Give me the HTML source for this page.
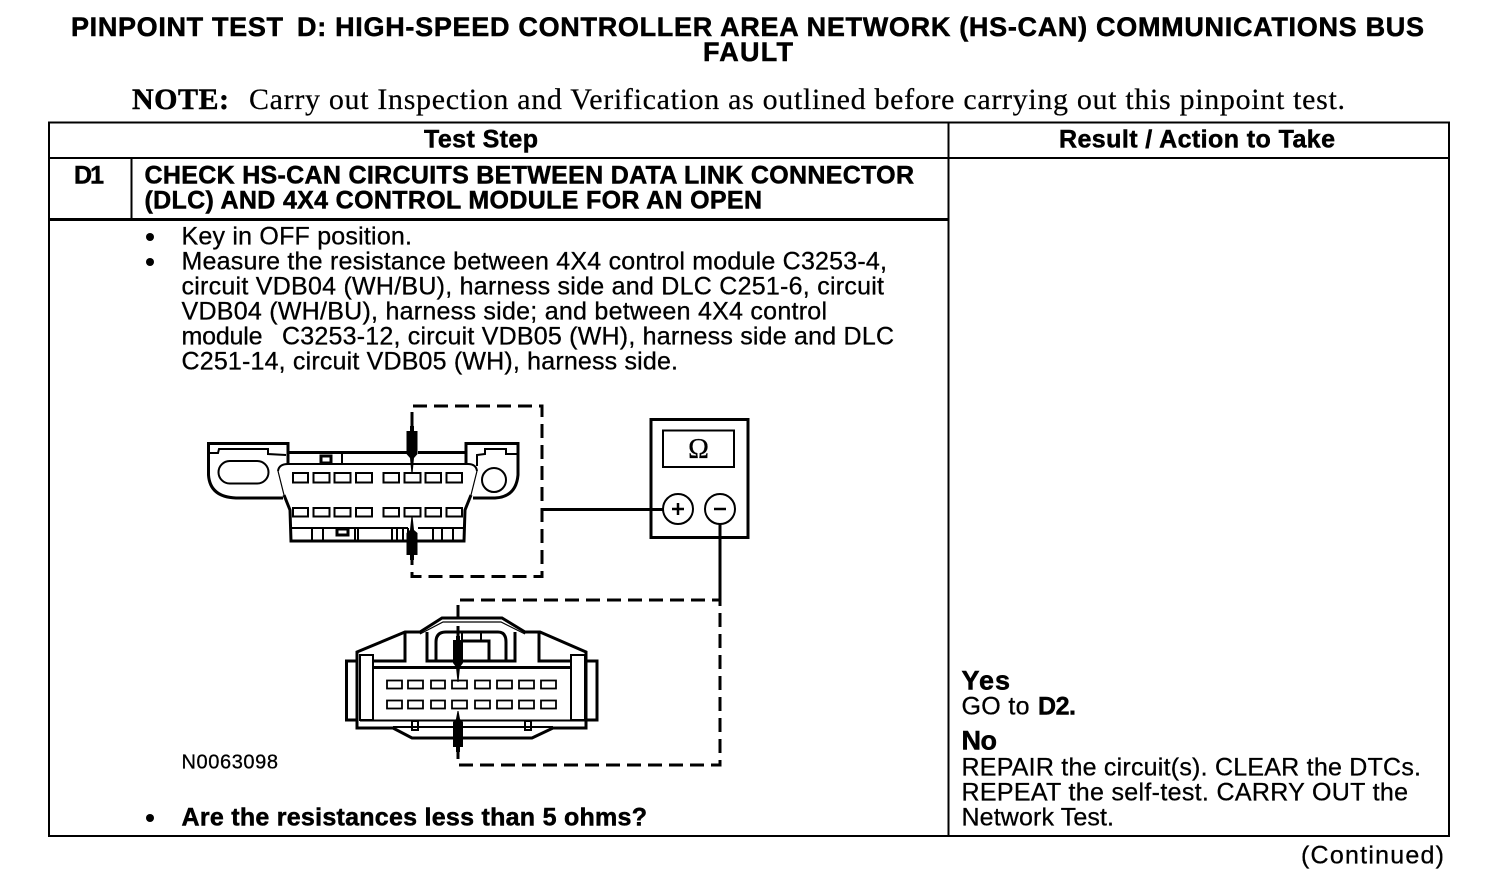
<!DOCTYPE html>
<html><head><meta charset="utf-8"><title>Pinpoint Test D</title>
<style>
html,body{margin:0;padding:0;background:#fff;width:1504px;height:892px;overflow:hidden}
svg{display:block}
text{font-family:"Liberation Sans",sans-serif;fill:#000;font-size:25px;stroke:#000;stroke-width:.3px}
.b{font-weight:bold;stroke-width:.5px}
.s{font-family:"Liberation Serif",serif;font-size:30px}
.l{fill:none;stroke:#000;stroke-width:3;stroke-linejoin:miter}
.m{fill:none;stroke:#000;stroke-width:2}
.t{fill:none;stroke:#000;stroke-width:1.2}
.d{fill:none;stroke:#000;stroke-width:3;stroke-dasharray:14 7}
.a{fill:#000;stroke:none}
</style></head><body>
<svg width="1504" height="892" viewBox="0 0 1504 892" xmlns="http://www.w3.org/2000/svg">
<text class="b" x="71" y="36" style="font-size:27px" textLength="212">PINPOINT TEST</text>
<text class="b" x="297" y="36" style="font-size:27px" textLength="1127">D: HIGH-SPEED CONTROLLER AREA NETWORK (HS-CAN) COMMUNICATIONS BUS</text>
<text class="b" x="703" y="61" style="font-size:27px" textLength="90">FAULT</text>
<text class="s b" x="132" y="109" textLength="97">NOTE:</text>
<text class="s" x="249" y="109" textLength="1096" style="stroke-width:.2px">Carry out Inspection and Verification as outlined before carrying out this pinpoint test.</text>

<!-- table -->
<rect x="49" y="122.500" width="1400" height="713.500" fill="none" stroke="#000" stroke-width="2"/>
<path d="M49 158H1449M948.500 122V836M131.500 158V219" fill="none" stroke="#000" stroke-width="2"/>
<path d="M49 219.500H948" fill="none" stroke="#000" stroke-width="3"/>

<text class="b" x="424" y="147.500" textLength="114">Test Step</text>
<text class="b" x="1059" y="147.500" textLength="276">Result / Action to Take</text>
<text class="b" x="74" y="183.500" textLength="30">D1</text>
<text class="b" x="144.500" y="183.500" textLength="769.500">CHECK HS-CAN CIRCUITS BETWEEN DATA LINK CONNECTOR</text>
<text class="b" x="144.500" y="208.500" textLength="617.500">(DLC) AND 4X4 CONTROL MODULE FOR AN OPEN</text>

<circle cx="150" cy="237" r="4" fill="#000"/>
<circle cx="150" cy="262" r="4" fill="#000"/>
<circle cx="150" cy="818" r="4" fill="#000"/>
<text x="181.500" y="244.500" textLength="230.500">Key in OFF position.</text>
<text x="181.500" y="269.500" textLength="705.500">Measure the resistance between 4X4 control module C3253-4,</text>
<text x="181.500" y="294.500" textLength="702.500">circuit VDB04 (WH/BU), harness side and DLC C251-6, circuit</text>
<text x="181.500" y="319.500" textLength="645.500">VDB04 (WH/BU), harness side; and between 4X4 control</text>
<text x="181.500" y="344.500" textLength="81">module</text>
<text x="282" y="344.500" textLength="612">C3253-12, circuit VDB05 (WH), harness side and DLC</text>
<text x="181.500" y="369.500" textLength="496.500">C251-14, circuit VDB05 (WH), harness side.</text>
<text x="181.500" y="768.500" style="font-size:20px" textLength="96.500">N0063098</text>
<text class="b" x="181.500" y="825.500" textLength="465.500">Are the resistances less than 5 ohms?</text>

<text class="b" x="961.500" y="689.500" style="font-size:27px" textLength="48.500">Yes</text>
<text x="961.500" y="714.500" textLength="68">GO to</text><text class="b" x="1038" y="714.500" textLength="38">D2.</text>
<text class="b" x="961.500" y="749.500" style="font-size:27px" textLength="35.500">No</text>
<text x="961.500" y="775.500" textLength="459.500">REPAIR the circuit(s). CLEAR the DTCs.</text>
<text x="961.500" y="800.500" textLength="446.500">REPEAT the self-test. CARRY OUT the</text>
<text x="961.500" y="825.500" textLength="152.500">Network Test.</text>
<text x="1301" y="863.500" textLength="143">(Continued)</text>

<!-- DLC connector -->
<path class="l" d="M288 464V443.500H208.500V475Q210 497 236 498H283"/>
<path class="m" d="M209 453H218L219 449H268V454L286 455"/>
<rect class="m" x="218.500" y="461" width="50" height="22.500" rx="11.250" ry="11.250"/>
<path class="l" d="M288 452.500H408M418 452.500H467"/>
<path class="m" d="M342 452V464"/>
<rect class="l" x="321" y="456" width="10" height="7"/>
<path class="l" d="M466 464V443.500H518V475Q516 497 495 498H473"/>
<path class="m" d="M518 454H506V449H485V454L477 455V466"/>
<circle class="m" cx="494" cy="480" r="12"/>
<path class="m" d="M278 471Q279 464 288 464H468Q476 464 477 471"/>
<path class="t" d="M278 471L284 495M477 471L471 495"/>
<path class="l" d="M284 495L290 510L291 541H464L465 510L471 495"/>
<path class="m" d="M291 528H408M418 528H464"/>
<path class="m" d="M312 528V541M323 528V541M355 528V541M358 528V541M392 528V541M397 528V541M403 528V541M408 528V541M433 528V541M442 528V541M453 528V541"/>
<rect class="l" x="337" y="529" width="11" height="6"/>
<g fill="none" stroke="#000" stroke-width="2">
<rect x="293" y="473" width="15" height="9.500"/><rect x="313.500" y="473" width="16" height="9.500"/><rect x="334.500" y="473" width="16" height="9.500"/><rect x="356" y="473" width="16" height="9.500"/><rect x="383.500" y="473" width="15.500" height="9.500"/><rect x="404.500" y="473" width="16" height="9.500"/><rect x="425.500" y="473" width="15.500" height="9.500"/><rect x="446.500" y="473" width="15.500" height="9.500"/>
<rect x="293" y="508" width="15" height="8.500"/><rect x="313.500" y="508" width="16" height="8.500"/><rect x="334.500" y="508" width="16" height="8.500"/><rect x="356" y="508" width="16" height="8.500"/><rect x="383.500" y="508" width="15.500" height="8.500"/><rect x="404.500" y="508" width="16" height="8.500"/><rect x="425.500" y="508" width="15.500" height="8.500"/><rect x="446.500" y="508" width="15.500" height="8.500"/>
</g>
<path class="d" d="M412 426V406H542V576.500H412V558"/>
<path class="a" d="M410 426H414V431H417.500V454L414 458L412.500 474H411.500L410 458L406.500 454V431H410Z"/>
<path class="a" d="M410 560H414V555H417.500V533L414 530L412.500 516H411.500L410 530L406.500 533V555H410Z"/>

<!-- meter -->
<rect x="651" y="419.500" width="97" height="118" fill="none" stroke="#000" stroke-width="3"/>
<rect x="663" y="430.500" width="71" height="36.500" fill="none" stroke="#000" stroke-width="2"/>
<text x="698.500" y="458" text-anchor="middle" style="font-family:'Liberation Serif',serif;font-size:28px">Ω</text>
<circle cx="678" cy="509" r="15" fill="#fff" stroke="#000" stroke-width="2"/>
<circle cx="720" cy="509" r="15" fill="#fff" stroke="#000" stroke-width="2"/>
<path d="M672 509H684M678 503V515M714 509H726" stroke="#000" stroke-width="2.500" fill="none"/>
<path class="l" d="M542 509.500H663M720 524V600"/>

<!-- 4x4 module connector -->
<path class="l" d="M357 652L405 632H420L442 618H502L525 632H540L586 652V728H553L532 738H412L393 728H357Z"/>
<rect class="l" x="346.500" y="661" width="10.500" height="59"/>
<rect class="l" x="586" y="661" width="11" height="59"/>
<rect class="m" x="360" y="655" width="13" height="65"/>
<rect class="m" x="571" y="655" width="14" height="65"/>
<path class="m" d="M360 720.500H585M393 727H553"/>
<path d="M373 667.500H571" stroke="#000" stroke-width="3"/>
<path class="l" d="M373 661H405V632M571 661H539V632"/>
<path class="l" d="M427 632V661H515V632M436 661V642Q436 632 446 632H498Q506 632 506 642V661"/>
<path class="l" d="M463 641H489V661"/>
<path class="m" d="M481 632V641M462 632V641"/>
<path class="t" d="M420 634L443 622H501L525 634"/>
<rect class="m" x="412" y="721" width="6" height="9" fill="#fff"/>
<rect class="m" x="525" y="721" width="6" height="9" fill="#fff"/>
<g fill="none" stroke="#000" stroke-width="1.800">
<rect x="387" y="680.500" width="15" height="8"/><rect x="408" y="680.500" width="15" height="8"/><rect x="431" y="680.500" width="14" height="8"/><rect x="452" y="680.500" width="15" height="8"/><rect x="475" y="680.500" width="15" height="8"/><rect x="497" y="680.500" width="15" height="8"/><rect x="519" y="680.500" width="15" height="8"/><rect x="541" y="680.500" width="15" height="8"/>
<rect x="387" y="700.500" width="15" height="8"/><rect x="408" y="700.500" width="15" height="8"/><rect x="431" y="700.500" width="14" height="8"/><rect x="452" y="700.500" width="15" height="8"/><rect x="475" y="700.500" width="15" height="8"/><rect x="497" y="700.500" width="15" height="8"/><rect x="519" y="700.500" width="15" height="8"/><rect x="541" y="700.500" width="15" height="8"/>
</g>
<path class="d" d="M458 640V600H720V765H458V747"/>
<path class="a" d="M456 636H460V640H463V663L460 667L458.500 682H457.500L456 667L453 663V640H456Z"/>
<path class="a" d="M456 752H460V747H463V722L460 719L458.500 711H457.500L456 719L453 722V747H456Z"/>
</svg>
</body></html>
